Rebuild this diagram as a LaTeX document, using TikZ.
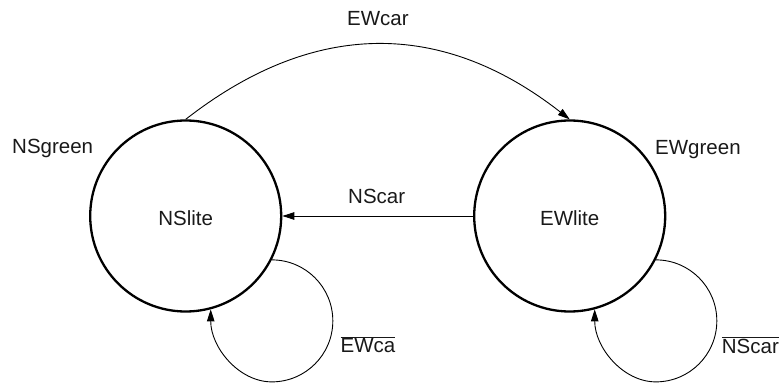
\documentclass[tikz,border=0pt]{standalone}
\usepackage{fontspec}
\setmainfont{Liberation Sans}
\usetikzlibrary{arrows.meta}
\begin{document}
\begin{tikzpicture}[x=1pt,y=1pt,
  state/.style={circle,draw,line width=2.3pt,minimum size=191pt,inner sep=0pt,
    font=\fontsize{20.5}{24}\selectfont},
  lbl/.style={inner sep=0pt,font=\fontsize{20.5}{24}\selectfont,text=black!90},
  conn/.style={line width=0.9pt,-{Triangle[length=12pt,width=7.5pt]}}]
\useasboundingbox (0,0) rectangle (783,383);
\node[state] (NS) at (185.7,167) {};
\node[state] (EW) at (569.7,167) {};
\node[lbl,anchor=base] (NSt) at (185.7,157.3) {NSlite};
\node[lbl,anchor=base] (EWt) at (569.7,157.3) {EWlite};
\node[lbl,anchor=base west] (NSg) at (12,229) {NSgreen};
\node[lbl,anchor=base west] (EWg) at (655,228) {EWgreen};
\node[lbl,anchor=base west] (EWc) at (347,357) {EWcar};
\node[lbl,anchor=base west] (NSc) at (348,179.7) {NScar};
\node[lbl,anchor=base west] (EWn) at (340.5,30.3) {$\overline{\hbox{EWca}}$};
\node[lbl,anchor=base west] (NSn) at (721.7,30) {$\overline{\hbox{NScar}}$};
\draw[conn] (NS.north) .. controls +(128,100) and +(-128,100) .. (EW.north);
\draw[conn] (EW.west) -- (NS.east);
\draw[conn] (NS.-27) arc[start angle=90,end angle=-90,radius=61]
  .. controls +(-33,0) and +(0,-38) .. (NS.-75);
\draw[conn] (EW.-27) arc[start angle=90,end angle=-90,radius=61]
  .. controls +(-33,0) and +(0,-38) .. (EW.-75);
\end{tikzpicture}
\end{document}
